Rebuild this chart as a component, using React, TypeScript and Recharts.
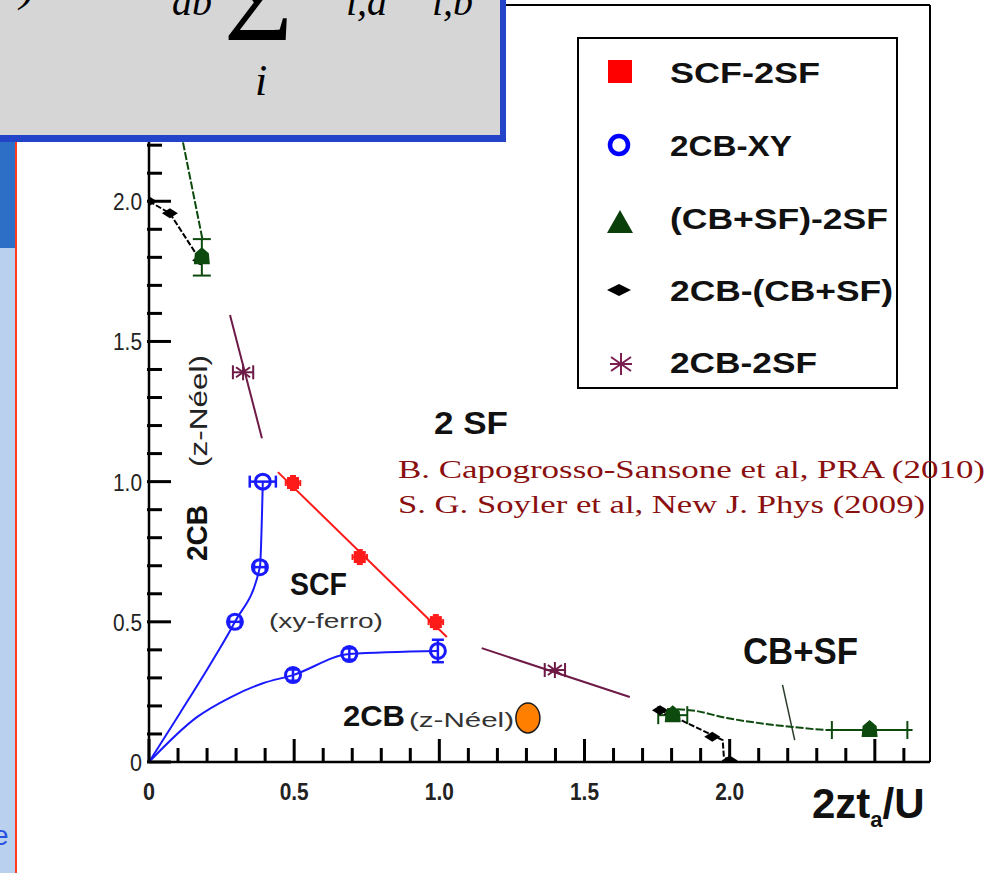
import React from "react";
import { ScatterChart, Scatter, XAxis, YAxis, ErrorBar, ReferenceLine } from "recharts";

type Pt = { x: number; y: number; ex?: number; ey?: number };

const FONT = "'Liberation Sans', Arial, Helvetica, sans-serif";
const SERIF = "'Liberation Serif', 'Times New Roman', serif";

// axis ticks (minor every 0.1, labelled every 0.5)
const xTicks = [0, 0.1, 0.2, 0.3, 0.4, 0.5, 0.6, 0.7, 0.8, 0.9, 1, 1.1, 1.2, 1.3, 1.4, 1.5, 1.6, 1.7, 1.8, 1.9, 2, 2.1, 2.2, 2.3, 2.4, 2.5, 2.6];
const yTicks = [0, 0.1, 0.2, 0.3, 0.4, 0.5, 0.6, 0.7, 0.8, 0.9, 1, 1.1, 1.2, 1.3, 1.4, 1.5, 1.6, 1.7, 1.8, 1.9, 2, 2.1, 2.2, 2.3, 2.4, 2.5, 2.6];
const xMajorTicks = [0, 0.5, 1, 1.5, 2];
const xMajorLabels = ["0", "0.5", "1.0", "1.5", "2.0"];
const yMajorTicks = [0, 0.5, 1, 1.5, 2];
const yMajorLabels = ["0", "0.5", "1.0", "1.5", "2.0"];

// SCF-2SF boundary
const scf2sfLine: Pt[] = [{ x: 0.444, y: 1.034 }, { x: 1.026, y: 0.446 }];
const scf2sfPts: Pt[] = [
  { x: 0.496, y: 0.995, ex: 0.025, ey: 0.025 },
  { x: 0.726, y: 0.731, ex: 0.025, ey: 0.025 },
  { x: 0.988, y: 0.499, ex: 0.025, ey: 0.025 },
];

// 2CB-XY boundary, both branches start at the origin
const xyUpperCurve: Pt[] = [
  { x: 0, y: 0 }, { x: 0.107, y: 0.175 }, { x: 0.22, y: 0.364 }, { x: 0.296, y: 0.5 },
  { x: 0.382, y: 0.695 }, { x: 0.392, y: 1.0 },
];
const xyLowerCurve: Pt[] = [
  { x: 0, y: 0 }, { x: 0.165, y: 0.16 }, { x: 0.279, y: 0.23 }, { x: 0.39, y: 0.28 },
  { x: 0.496, y: 0.31 }, { x: 0.69, y: 0.385 }, { x: 0.995, y: 0.396 },
];
const xyPts: Pt[] = [
  { x: 0.392, y: 1.0, ex: 0.045 },
  { x: 0.382, y: 0.695, ex: 0.02 },
  { x: 0.296, y: 0.5, ex: 0.02 },
  { x: 0.496, y: 0.31, ey: 0.02 },
  { x: 0.69, y: 0.385, ey: 0.02 },
  { x: 0.995, y: 0.396, ey: 0.04 },
];

// (CB+SF)-2SF boundary
const cbsfUpperLine: Pt[] = [{ x: 0.09, y: 2.35 }, { x: 0.185, y: 1.86 }];
const cbsfLowerCurve: Pt[] = [
  { x: 1.75, y: 0.19 }, { x: 1.862, y: 0.185 }, { x: 1.99, y: 0.157 }, { x: 2.217, y: 0.125 },
  { x: 2.35, y: 0.114 }, { x: 2.48, y: 0.114 }, { x: 2.63, y: 0.114 },
];
const cbsfTopPts: Pt[] = [{ x: 0.182, y: 1.8, ey: 0.065 }];
const cbsfLowPts: Pt[] = [
  { x: 1.804, y: 0.167, ex: 0.05 },
  { x: 2.482, y: 0.114, ex: 0.13 },
];

// 2CB-(CB+SF) boundary
const cbUpperLine: Pt[] = [{ x: 0, y: 2.0 }, { x: 0.072, y: 1.957 }, { x: 0.176, y: 1.79 }];
const cbLowerLine: Pt[] = [
  { x: 1.76, y: 0.185 }, { x: 1.94, y: 0.096 }, { x: 1.976, y: 0.078 }, { x: 1.98, y: 0.018 }, { x: 2.0, y: 0.005 },
];
const cbPts: Pt[] = [
  { x: 0, y: 2.0 }, { x: 0.072, y: 1.957 }, { x: 0.176, y: 1.79 },
  { x: 1.76, y: 0.185 }, { x: 1.8, y: 0.17 }, { x: 1.94, y: 0.09 }, { x: 2.0, y: 0.005 },
];

// 2CB-2SF boundary
const cb2sfLineA: Pt[] = [{ x: 0.279, y: 1.594 }, { x: 0.389, y: 1.155 }];
const cb2sfLineB: Pt[] = [{ x: 1.146, y: 0.406 }, { x: 1.656, y: 0.232 }];
const cb2sfPts: Pt[] = [
  { x: 0.324, y: 1.39, ex: 0.035 },
  { x: 1.398, y: 0.328, ex: 0.035 },
];

// pointer to the CB+SF region
const cbsfPointer: Pt[] = [{ x: 2.182, y: 0.275 }, { x: 2.224, y: 0.078 }];

// highlighted point in the 2CB phase
const markedPt: Pt[] = [{ x: 1.305, y: 0.157 }];

const legendLabels = ["SCF-2SF", "2CB-XY", "(CB+SF)-2SF", "2CB-(CB+SF)", "2CB-2SF"];
const legendWidths = [150, 122, 218, 223, 147];

const RED = "#ff1a1a";
const BLUE = "#1a1aff";
const GREEN = "#0d4a0d";
const MAROON = "#6e1a46";

// chart frame
const W = 988;
const H = 873;
const M = { top: 5, right: 58, bottom: 71, left: 109 };
const X_MAX = 2.69;
const Y_MAX = 2.7;

const isMajor = (v: number) => Math.abs(v * 2 - Math.round(v * 2)) < 1e-6;
const labelFor = (v: number, ticks: number[], labels: string[]) => {
  const i = ticks.findIndex((t) => Math.abs(t - v) < 1e-6);
  return i >= 0 ? labels[i] : null;
};

// axis tick: inward mark plus the label outside the frame
const XTick = (props: any) => {
  const x = Number(props.x);
  const y = Number(props.y);
  const v = Number(props.payload.value);
  const lab = labelFor(v, xMajorTicks, xMajorLabels);
  const len = isMajor(v) ? 23 : 14;
  return (
    <g>
      <rect x={x - 1.5} y={y - len} width={3} height={len + 1} fill="#000" />
      {lab && (
        <text x={x} y={y + 38} textAnchor="middle" fontSize={24} fontWeight="bold" fill="#222" fontFamily={FONT}
          textLength={lab.length === 1 ? 12 : 29} lengthAdjust="spacingAndGlyphs">
          {lab}
        </text>
      )}
    </g>
  );
};

const YTick = (props: any) => {
  const x = Number(props.x);
  const y = Number(props.y);
  const v = Number(props.payload.value);
  const lab = labelFor(v, yMajorTicks, yMajorLabels);
  const len = isMajor(v) ? 22 : 13;
  return (
    <g>
      <rect x={x - 2} y={y - 1.5} width={len + 2} height={3} fill="#000" />
      {lab && (
        <text x={x - 7} y={y + 9} textAnchor="end" fontSize={24} fill="#222" fontFamily={FONT}
          textLength={lab.length === 1 ? 12 : 29} lengthAdjust="spacingAndGlyphs">
          {lab}
        </text>
      )}
    </g>
  );
};

const NoMark = () => <g />;
const RedSquare = ({ cx, cy }: any) => <rect x={cx - 6} y={cy - 6} width={12} height={12} fill={RED} />;
const BlueRing = ({ cx, cy }: any) => <circle cx={cx} cy={cy} r={7.5} fill="none" stroke={BLUE} strokeWidth={3} />;
const GreenMark = ({ cx, cy }: any) => (
  <polygon points={`${cx - 8},${cy + 7} ${cx + 8},${cy + 7} ${cx + 7},${cy - 4} ${cx},${cy - 10} ${cx - 7},${cy - 4}`} fill={GREEN} />
);
const BlackDiamond = ({ cx, cy }: any) => (
  <polygon points={`${cx - 8},${cy} ${cx},${cy - 5} ${cx + 8},${cy} ${cx},${cy + 5}`} fill="#000" />
);
const MaroonStar = ({ cx, cy }: any) => (
  <g stroke={MAROON} strokeWidth={2}>
    <line x1={cx} y1={cy - 8} x2={cx} y2={cy + 8} />
    <line x1={cx - 7} y1={cy - 5} x2={cx + 7} y2={cy + 5} />
    <line x1={cx - 7} y1={cy + 5} x2={cx + 7} y2={cy - 5} />
  </g>
);
const OrangeDot = ({ cx, cy }: any) => (
  <ellipse cx={cx} cy={cy} rx={12} ry={15} fill="#ff8000" stroke="#1a1a1a" strokeWidth={1.5} />
);

function LegendBox() {
  const rows = [83, 156, 229, 301, 373];
  return (
    <g>
      <rect x={578} y={38} width={319} height={350} fill="#fff" stroke="#000" strokeWidth={2} />
      <rect x={608} y={60} width={24} height={23} fill="#ff0000" />
      <circle cx={619} cy={145} r={9} fill="none" stroke="#0000ff" strokeWidth={4.5} />
      <polygon points="607,233 633,233 620,210" fill="#0a3f0a" />
      <polygon points="607,290 619,284 631,290 619,296" fill="#000" />
      <g stroke="#7a1f4f" strokeWidth={2}>
        <line x1={621} y1={353} x2={621} y2={375} />
        <line x1={611} y1={357} x2={631} y2={371} />
        <line x1={611} y1={371} x2={631} y2={357} />
        <line x1={610} y1={364} x2={632} y2={364} />
      </g>
      {legendLabels.map((l, i) => (
        <text
          key={l}
          x={670}
          y={rows[i]}
          fontSize={29}
          fontWeight="bold"
          fontFamily={FONT}
          fill="#111"
          textLength={legendWidths[i]}
          lengthAdjust="spacingAndGlyphs"
        >
          {l}
        </text>
      ))}
    </g>
  );
}

function Annotations() {
  return (
    <svg width={W} height={H} style={{ position: "absolute", left: 0, top: 0, pointerEvents: "none" }}>
      <LegendBox />
      <text x={434} y={434} fontSize={32} fontWeight="bold" fontFamily={FONT} fill="#111" textLength={74} lengthAdjust="spacingAndGlyphs">
        2 SF
      </text>
      <text x={398} y={478} fontSize={26} fontFamily={SERIF} fill="#8a1010" textLength={587} lengthAdjust="spacingAndGlyphs">
        B. Capogrosso-Sansone et al, PRA  (2010)
      </text>
      <text x={398} y={513} fontSize={26} fontFamily={SERIF} fill="#8a1010" textLength={527} lengthAdjust="spacingAndGlyphs">
        S. G. Soyler et al, New J. Phys (2009)
      </text>
      <text x={290} y={595} fontSize={32} fontWeight="bold" fontFamily={FONT} fill="#111" textLength={57} lengthAdjust="spacingAndGlyphs">
        SCF
      </text>
      <text x={269} y={628} fontSize={21} fontFamily={FONT} fill="#333" textLength={114} lengthAdjust="spacingAndGlyphs">
        (xy-ferro)
      </text>
      <text x={343} y={726} fontSize={30} fontWeight="bold" fontFamily={FONT} fill="#111" textLength={62} lengthAdjust="spacingAndGlyphs">
        2CB
      </text>
      <text x={409} y={727} fontSize={21} fontFamily={FONT} fill="#333" textLength={105} lengthAdjust="spacingAndGlyphs">
        (z-Néel)
      </text>
      <text transform="translate(207,561) rotate(-90)" fontSize={30} fontWeight="bold" fontFamily={FONT} fill="#111" textLength={56} lengthAdjust="spacingAndGlyphs">
        2CB
      </text>
      <text transform="translate(207,467) rotate(-90)" fontSize={23} fontFamily={FONT} fill="#222" textLength={112} lengthAdjust="spacingAndGlyphs">
        (z-Néel)
      </text>
      <text x={743} y={664} fontSize={36} fontWeight="bold" fontFamily={FONT} fill="#111" textLength={115} lengthAdjust="spacingAndGlyphs">
        CB+SF
      </text>
      <text x={812} y={818} fontSize={42} fontWeight="bold" fontFamily={FONT} fill="#111">
        2zt
        <tspan fontSize={22} dy={9}>a</tspan>
        <tspan dy={-9}>/U</tspan>
      </text>
    </svg>
  );
}

function FormulaBox() {
  return (
    <div
      style={{
        position: "absolute",
        left: 0,
        top: 0,
        width: 500,
        height: 135,
        background: "#d6d6d6",
        borderRight: "6px solid #2343c9",
        borderBottom: "7px solid #2343c9",
        overflow: "hidden",
      }}
    >
      <svg width={500} height={135} style={{ display: "block" }}>
        <g fontFamily={SERIF} fontStyle="italic" fill="#000">
          <text x={20} y={0} fontSize={48}>)</text>
          <text x={172} y={15} fontSize={40}>ab</text>
          <text x={346} y={15} fontSize={40}>i,a</text>
          <text x={432} y={15} fontSize={40}>i,b</text>
          <text x={255} y={95} fontSize={44}>i</text>
        </g>
        <text x={224} y={40} fontSize={118} fontFamily={SERIF} fill="#000">Σ</text>
      </svg>
    </div>
  );
}

function SlideEdge() {
  return (
    <>
      <div style={{ position: "absolute", left: 0, top: 142, width: 15, height: 106, background: "#2d6fc6" }} />
      <div style={{ position: "absolute", left: 0, top: 248, width: 15, height: 625, background: "#b9d1ee" }} />
      <div style={{ position: "absolute", left: 15, top: 142, width: 2, height: 731, background: "#ff3b1f" }} />
      <svg width={16} height={H} style={{ position: "absolute", left: 0, top: 0 }}>
        <text x={-7} y={845} fontSize={28} fontFamily={FONT} fill="#2850e0">e</text>
      </svg>
    </>
  );
}

export default function App() {
  return (
    <div style={{ position: "absolute", left: 0, top: 0, width: W, height: H, background: "#fff", overflow: "hidden" }}>
      <ScatterChart width={W} height={H} margin={M}>
        <XAxis
          type="number"
          dataKey="x"
          domain={[0, X_MAX]}
          ticks={xTicks}
          interval={0}
          height={40}
          tickSize={0}
          tickMargin={0}
          tickLine={false}
          tick={<XTick />}
          axisLine={{ stroke: "#000", strokeWidth: 2.5 }}
          allowDataOverflow
        />
        <YAxis
          type="number"
          dataKey="y"
          domain={[0, Y_MAX]}
          ticks={yTicks}
          interval={0}
          width={40}
          tickSize={0}
          tickMargin={0}
          tickLine={false}
          tick={<YTick />}
          axisLine={{ stroke: "#000", strokeWidth: 2.5 }}
          allowDataOverflow
        />
        <ReferenceLine y={Y_MAX} stroke="#000" strokeWidth={2} />
        <ReferenceLine x={X_MAX} stroke="#000" strokeWidth={2} />
        <ReferenceLine segment={[cbsfPointer[0], cbsfPointer[1]]} stroke="#2b3b2b" strokeWidth={1.5} />

        {/* boundary lines */}
        <Scatter data={xyUpperCurve} fill="none" shape={NoMark} line={{ stroke: BLUE, strokeWidth: 2 }} lineJointType="monotoneX" isAnimationActive={false} />
        <Scatter data={xyLowerCurve} fill="none" shape={NoMark} line={{ stroke: BLUE, strokeWidth: 2 }} lineJointType="monotoneX" isAnimationActive={false} />
        <Scatter data={scf2sfLine} fill="none" shape={NoMark} line={{ stroke: RED, strokeWidth: 2 }} isAnimationActive={false} />
        <Scatter data={cb2sfLineA} fill="none" shape={NoMark} line={{ stroke: MAROON, strokeWidth: 2 }} isAnimationActive={false} />
        <Scatter data={cb2sfLineB} fill="none" shape={NoMark} line={{ stroke: MAROON, strokeWidth: 2 }} isAnimationActive={false} />
        <Scatter data={cbsfUpperLine} fill="none" shape={NoMark} line={{ stroke: GREEN, strokeWidth: 2, strokeDasharray: "8 2" }} isAnimationActive={false} />
        <Scatter data={cbsfLowerCurve} fill="none" shape={NoMark} line={{ stroke: GREEN, strokeWidth: 2, strokeDasharray: "8 2" }} lineJointType="monotoneX" isAnimationActive={false} />
        <Scatter data={cbUpperLine} fill="none" shape={NoMark} line={{ stroke: "#000", strokeWidth: 2, strokeDasharray: "6 2" }} isAnimationActive={false} />
        <Scatter data={cbLowerLine} fill="none" shape={NoMark} line={{ stroke: "#000", strokeWidth: 2, strokeDasharray: "6 2" }} isAnimationActive={false} />

        {/* data points */}
        <Scatter data={cbPts} fill="#000" shape={BlackDiamond} isAnimationActive={false} />
        <Scatter data={cbsfTopPts} fill={GREEN} shape={GreenMark} isAnimationActive={false}>
          <ErrorBar dataKey="ey" direction="y" width={9} stroke={GREEN} strokeWidth={2} />
        </Scatter>
        <Scatter data={cbsfLowPts} fill={GREEN} shape={GreenMark} isAnimationActive={false}>
          <ErrorBar dataKey="ex" direction="x" width={9} stroke={GREEN} strokeWidth={2} />
        </Scatter>
        <Scatter data={scf2sfPts} fill={RED} shape={RedSquare} isAnimationActive={false}>
          <ErrorBar dataKey="ex" direction="x" width={3} stroke={RED} strokeWidth={2} />
          <ErrorBar dataKey="ey" direction="y" width={3} stroke={RED} strokeWidth={2} />
        </Scatter>
        <Scatter data={xyPts} fill="none" shape={BlueRing} isAnimationActive={false}>
          <ErrorBar dataKey="ex" direction="x" width={6} stroke={BLUE} strokeWidth={2.5} />
          <ErrorBar dataKey="ey" direction="y" width={6} stroke={BLUE} strokeWidth={2.5} />
        </Scatter>
        <Scatter data={cb2sfPts} fill={MAROON} shape={MaroonStar} isAnimationActive={false}>
          <ErrorBar dataKey="ex" direction="x" width={7} stroke={MAROON} strokeWidth={2} />
        </Scatter>
        <Scatter data={markedPt} fill="#ff8000" shape={OrangeDot} isAnimationActive={false} />
      </ScatterChart>
      <Annotations />
      <FormulaBox />
      <SlideEdge />
    </div>
  );
}
